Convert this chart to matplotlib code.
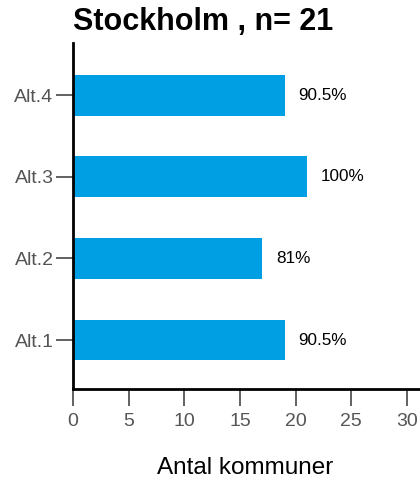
import matplotlib
matplotlib.use("Agg")
import matplotlib.pyplot as plt

categories = ["Alt.1", "Alt.2", "Alt.3", "Alt.4"]
values = [19, 17, 21, 19]
pct_labels = ["90.5%", "81%", "100%", "90.5%"]
xticks = [0, 5, 10, 15, 20, 25, 30]
title = "Stockholm , n= 21"
xlabel = "Antal kommuner"

plt.rcParams['font.family'] = ['Liberation Sans', 'DejaVu Sans']

fig = plt.figure(figsize=(4.2, 4.79), dpi=100)
W, H = 420, 479
left, right_px, top, bottom = 73, 420 + 8, 43, 389
ax = fig.add_axes([left / W, 1 - bottom / H, (right_px - left) / W, (bottom - top) / H])
ypos = list(range(len(categories)))
ax.barh(ypos, values, height=0.5, color="#009FE3")
for y, v, lab in zip(ypos, values, pct_labels):
    ax.annotate(lab, (v, y), xytext=(14, 0), textcoords="offset pixels",
                va="center", ha="left", fontsize=12.3, color="black")
ax.set_xlim(0, (right_px - left) / ((407 - 73) / 30))
ax.set_ylim(-0.6, 3.64)
ax.set_yticks(ypos)
ax.set_yticklabels(categories)
ax.set_xticks(xticks)
for s in ["top", "right"]:
    ax.spines[s].set_visible(False)
for s in ["left", "bottom"]:
    ax.spines[s].set_linewidth(2)
    ax.spines[s].set_color("black")
ax.tick_params(axis="y", colors="#555555", labelsize=14, length=12, width=1.3, pad=2)
ax.tick_params(axis="x", colors="#555555", labelsize=14, length=12.5, width=1.3, pad=5)
ax.set_xlabel(xlabel, fontsize=17.5, color="black")
ax.xaxis.set_label_coords((245 - left) / (right_px - left), (bottom - 468) / (bottom - top))
ax.xaxis.label.set_va("center")
fig.text(203 / W, 1 - 22 / H, title, fontsize=22, fontweight="bold", ha="center", va="center")
fig.savefig("out.png", dpi=100)
